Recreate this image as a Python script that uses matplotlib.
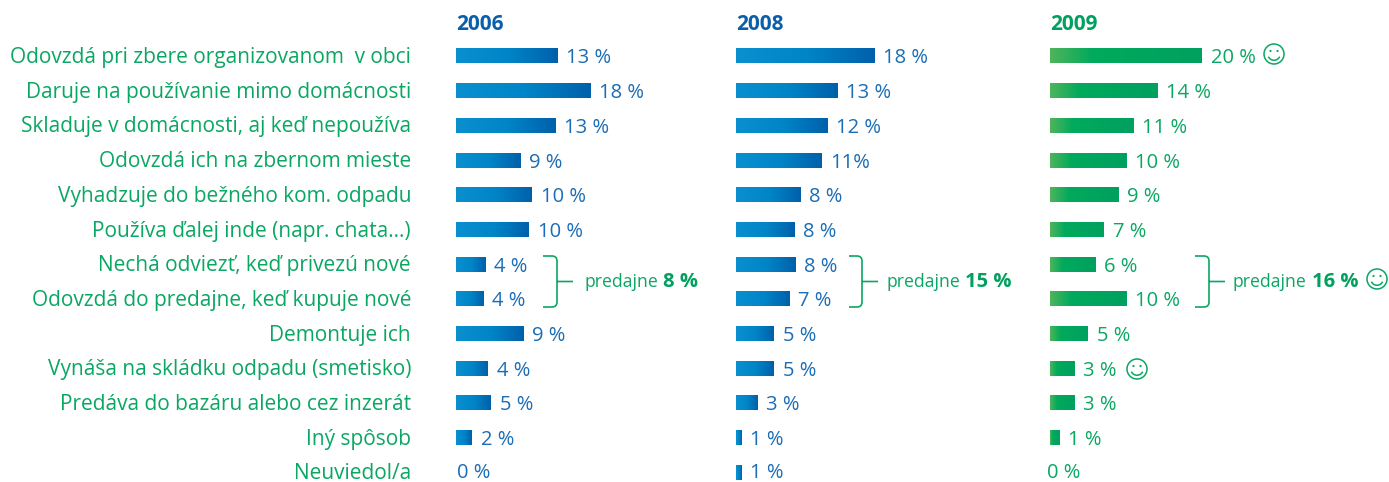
import numpy as np
import matplotlib
matplotlib.use('Agg')
import matplotlib.pyplot as plt
from matplotlib.colors import LinearSegmentedColormap
from matplotlib.path import Path
from matplotlib.patches import PathPatch, Circle, Arc

categories = ['Odovzdá pri zbere organizovanom  v obci', 'Daruje na používanie mimo domácnosti',
              'Skladuje v domácnosti, aj keď nepoužíva', 'Odovzdá ich na zbernom mieste',
              'Vyhadzuje do bežného kom. odpadu', 'Používa ďalej inde (napr. chata...)',
              'Nechá odviezť, keď privezú nové', 'Odovzdá do predajne, keď kupuje nové',
              'Demontuje ich', 'Vynáša na skládku odpadu (smetisko)',
              'Predáva do bazáru alebo cez inzerát', 'Iný spôsob', 'Neuviedol/a']

years = ['2006', '2008', '2009']

# bar lengths as drawn in the picture, slightly off the rounded labels
vals_2006 = [13.4, 17.7, 13.1, 8.5, 10.0, 9.6, 3.9, 3.6, 8.9, 4.2, 4.6, 2.1, 0]
vals_2008 = [18.2, 13.3, 12.0, 11.3, 8.5, 7.7, 7.8, 7.0, 5.0, 5.0, 2.8, 0.7, 0.7]
vals_2009 = [20.0, 14.1, 11.0, 10.1, 9.0, 7.1, 6.0, 10.1, 5.0, 3.2, 3.2, 1.2, 0]

labels_2006 = ['13 %', '18 %', '13 %', '9 %', '10 %', '10 %', '4 %', '4 %', '9 %', '4 %', '5 %', '2 %', '0 %']
labels_2008 = ['18 %', '13 %', '12 %', '11%', '8 %', '8 %', '8 %', '7 %', '5 %', '5 %', '3 %', '1 %', '1 %']
labels_2009 = ['20 %', '14 %', '11 %', '10 %', '9 %', '7 %', '6 %', '10 %', '5 %', '3 %', '3 %', '1 %', '0 %']

sales_totals = ['8 %', '15 %', '16 %']

W, H = 1389, 482
FONT = 'Open Sans'
GREEN = '#0aa763'
BLUE = '#1a6db6'
PX_PER_UNIT = 7.6
ROW0, ROW_STEP = 56.0, 34.7

blue_cmap = LinearSegmentedColormap.from_list('b', ['#0a90cf', '#0086c8', '#0060aa'])
green_cmap = LinearSegmentedColormap.from_list('g', [(0, '#4fb45c'), (0.28, '#00aa5c'), (1, '#00a05f')])

fig = plt.figure(figsize=(W / 100, H / 100), dpi=100)

# overlay in pixel units for the free text and brackets
over = fig.add_axes([0, 0, 1, 1], zorder=3)
over.set_xlim(0, W)
over.set_ylim(H, 0)
over.axis('off')
over.patch.set_alpha(0)


def row_y(i):
    return ROW0 + ROW_STEP * i


def smiley(x, y, r=10):
    over.add_patch(Circle((x, y), r, fill=False, edgecolor=GREEN, lw=1.1))
    over.add_patch(Circle((x - 3.5, y - 3), 1.1, color=GREEN, lw=0))
    over.add_patch(Circle((x + 3.5, y - 3), 1.1, color=GREEN, lw=0))
    # y axis is inverted, so the lower half of the circle is 0..180 degrees
    over.add_patch(Arc((x, y), 12.5, 12.5, theta1=25, theta2=155, edgecolor=GREEN, lw=1.1))


def draw_panel(x0, title, vals, labels, cmap, text_color, title_color, zero_off=0.5):
    ax = fig.add_axes([x0 / W, 0, 320 / W, 1], zorder=1)
    ypos = np.arange(len(vals))
    bars = ax.barh(ypos, vals, height=15 / ROW_STEP, color='none')
    grad = np.linspace(0, 1, 256).reshape(1, -1)
    for bar in bars:
        if bar.get_width() == 0:
            continue
        y0 = bar.get_y()
        im = ax.imshow(grad, cmap=cmap, aspect='auto',
                       extent=(0, bar.get_width(), y0 + bar.get_height(), y0))
        im.set_clip_path(bar)
    ax.set_xlim(0, 320 / PX_PER_UNIT)
    ax.set_ylim((H - ROW0) / ROW_STEP, -ROW0 / ROW_STEP)
    ax.axis('off')
    for v, lab, y in zip(vals, labels, ypos):
        off = 6.2 if v > 0 else zero_off
        # last row sits close to the bottom edge, keep it inside the figure
        yoff = -0.6 if y == len(vals) - 1 else -1.8
        ax.annotate(lab, (v, y), xytext=(off, yoff), textcoords='offset points',
                    ha='left', va='center', family=FONT, fontsize=14.5, color=text_color)
    over.text(x0, 24, title, family=FONT, fontsize=15, fontweight='bold',
              color=title_color, ha='left', va='center')


def bracket(x0, x1, tick, y0, y1):
    r = 5
    ym = (y0 + y1) / 2
    verts = [(x0, y0), (x1 - r, y0), (x1, y0), (x1, y0 + r), (x1, y1 - r), (x1, y1), (x1 - r, y1), (x0, y1),
             (x1, ym), (tick, ym)]
    codes = [Path.MOVETO, Path.LINETO, Path.CURVE3, Path.CURVE3, Path.LINETO, Path.CURVE3, Path.CURVE3, Path.LINETO,
             Path.MOVETO, Path.LINETO]
    over.add_patch(PathPatch(Path(verts, codes), fill=False, edgecolor=GREEN, lw=1.2))


draw_panel(456, years[0], vals_2006, labels_2006, blue_cmap, BLUE, '#0a5fa8')
draw_panel(736, years[1], vals_2008, labels_2008, blue_cmap, BLUE, '#0a5fa8')
draw_panel(1050, years[2], vals_2009, labels_2009, green_cmap, GREEN, '#00a060', zero_off=-2)

for i, c in enumerate(categories):
    over.text(411, row_y(i) + 1.5, c, family=FONT, fontsize=15, color=GREEN, ha='right', va='center')

bracket(543, 557, 573, 256, 307)
bracket(849, 862, 878, 256, 307)
bracket(1195, 1209, 1225, 256, 307)

for x, xb, total in zip([584, 886, 1232], [663, 965, 1312], sales_totals):
    over.text(x, 282, 'predajne', family=FONT, fontsize=12.7, color=GREEN, ha='left', va='center')
    over.text(xb, 282, total, family=FONT, fontsize=14.5, fontweight='bold', color='#00a05f', ha='left', va='center')

smiley(1274, 54)
smiley(1377, 279)
smiley(1137, 369)

fig.savefig('out.png', dpi=100)
